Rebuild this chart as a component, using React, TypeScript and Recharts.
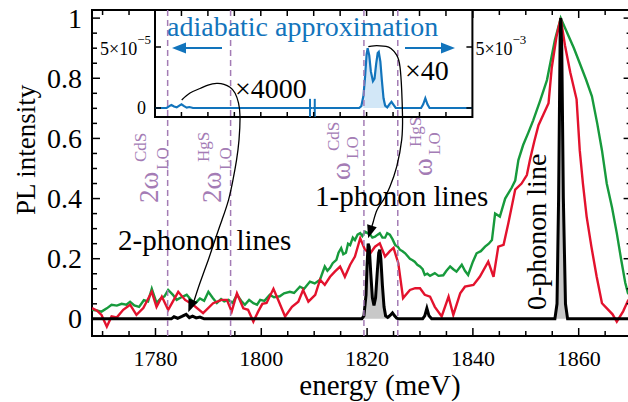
import React from 'react';
import {
  ComposedChart,
  Line,
  Area,
  XAxis,
  YAxis,
  ReferenceLine,
  ReferenceArea,
  Scatter,
  CartesianGrid,
} from 'recharts';

// ---------------- data ----------------
const greenE = [1768.0, 1768.9, 1769.8, 1770.8, 1771.7, 1772.7, 1773.6, 1774.5, 1775.2, 1776.0, 1776.9, 1777.8, 1778.6, 1779.3, 1780.2, 1781.0, 1781.7, 1782.4, 1783.3, 1784.0, 1784.9, 1785.9, 1786.8, 1787.6, 1788.4, 1789.2, 1790.0, 1790.8, 1791.6, 1792.4, 1793.0, 1793.8, 1794.6, 1795.4, 1796.2, 1796.9, 1797.7, 1798.5, 1799.2, 1799.8, 1800.6, 1801.6, 1802.4, 1803.5, 1804.3, 1805.4, 1806.2, 1807.3, 1808.1, 1809.2, 1810.1, 1811.1, 1811.6, 1812.0, 1812.5, 1813.0, 1813.5, 1814.2, 1814.6, 1815.1, 1815.5, 1816.0, 1816.4, 1816.8, 1817.3, 1817.7, 1818.2, 1818.7, 1819.1, 1819.6, 1820.1, 1820.6, 1821.0, 1821.5, 1822.0, 1822.4, 1822.9, 1823.4, 1823.8, 1824.3, 1824.8, 1825.3, 1825.8, 1826.2, 1826.7, 1827.2, 1827.6, 1828.1, 1828.6, 1829.0, 1829.5, 1830.0, 1830.5, 1830.9, 1831.4, 1831.9, 1832.8, 1833.5, 1834.4, 1835.0, 1835.7, 1836.3, 1836.9, 1837.9, 1838.5, 1839.1, 1840.0, 1840.7, 1841.5, 1842.3, 1843.0, 1843.6, 1844.2, 1845.1, 1846.1, 1847.3, 1848.0, 1848.6, 1849.5, 1850.5, 1851.4, 1852.7, 1854.0, 1855.5, 1856.6, 1858.0, 1859.1, 1860.2, 1861.4, 1862.5, 1863.5, 1864.4, 1865.3, 1866.3, 1867.2, 1868.0, 1868.8, 1869.3, 1870.0];
const greenI = [0.030, 0.028, 0.024, 0.035, 0.047, 0.044, 0.050, 0.047, 0.057, 0.045, 0.040, 0.062, 0.058, 0.100, 0.053, 0.068, 0.075, 0.096, 0.080, 0.063, 0.072, 0.080, 0.062, 0.053, 0.068, 0.060, 0.090, 0.070, 0.053, 0.066, 0.058, 0.063, 0.053, 0.080, 0.060, 0.047, 0.063, 0.052, 0.047, 0.063, 0.060, 0.080, 0.072, 0.075, 0.085, 0.090, 0.086, 0.107, 0.100, 0.124, 0.118, 0.130, 0.155, 0.174, 0.160, 0.170, 0.185, 0.196, 0.220, 0.235, 0.215, 0.220, 0.250, 0.245, 0.270, 0.262, 0.280, 0.285, 0.275, 0.290, 0.285, 0.280, 0.270, 0.273, 0.280, 0.285, 0.270, 0.270, 0.285, 0.280, 0.265, 0.246, 0.240, 0.230, 0.225, 0.218, 0.210, 0.200, 0.195, 0.190, 0.180, 0.174, 0.165, 0.146, 0.150, 0.143, 0.152, 0.143, 0.145, 0.160, 0.174, 0.165, 0.157, 0.180, 0.160, 0.146, 0.190, 0.218, 0.225, 0.240, 0.250, 0.262, 0.350, 0.340, 0.400, 0.435, 0.460, 0.528, 0.578, 0.620, 0.660, 0.725, 0.794, 0.927, 1.000, 0.944, 0.900, 0.850, 0.795, 0.740, 0.650, 0.560, 0.450, 0.370, 0.285, 0.200, 0.120, 0.086, 0.070];

const redE = [1768.0, 1768.9, 1769.8, 1770.8, 1771.7, 1772.7, 1773.9, 1775.2, 1776.4, 1777.7, 1779.3, 1780.2, 1781.2, 1782.4, 1784.3, 1785.6, 1787.1, 1789.0, 1790.9, 1792.5, 1793.5, 1794.4, 1795.4, 1796.6, 1797.5, 1798.5, 1799.4, 1800.2, 1801.0, 1802.3, 1803.2, 1804.5, 1805.8, 1807.0, 1807.9, 1808.9, 1810.2, 1811.1, 1812.0, 1813.0, 1813.9, 1814.9, 1815.8, 1816.8, 1817.7, 1818.7, 1819.6, 1820.6, 1821.5, 1822.4, 1823.4, 1824.3, 1825.0, 1825.9, 1826.8, 1828.1, 1829.1, 1830.0, 1830.9, 1831.9, 1832.8, 1834.1, 1835.4, 1836.3, 1837.6, 1838.5, 1840.1, 1841.3, 1842.9, 1843.9, 1844.8, 1845.8, 1846.7, 1848.0, 1849.2, 1850.2, 1850.8, 1851.6, 1852.4, 1854.3, 1854.9, 1855.8, 1856.6, 1857.4, 1858.4, 1859.6, 1860.2, 1860.8, 1861.5, 1862.4, 1863.4, 1864.4, 1865.6, 1866.4, 1867.2, 1868.4, 1869.3, 1870.0];
const redI = [0.036, 0.028, 0.013, -0.026, 0.008, 0.005, 0.030, 0.047, 0.013, 0.036, 0.090, 0.040, 0.074, 0.030, 0.090, 0.063, 0.047, 0.019, 0.052, 0.063, 0.063, 0.024, 0.085, 0.035, 0.030, -0.009, 0.024, 0.050, 0.053, 0.100, 0.063, 0.008, 0.040, 0.057, 0.096, 0.057, 0.080, 0.130, 0.113, 0.140, 0.157, 0.174, 0.140, 0.180, 0.207, 0.268, 0.230, 0.218, 0.240, 0.251, 0.207, 0.225, 0.236, 0.185, 0.069, 0.096, 0.102, 0.102, 0.080, 0.074, 0.040, 0.008, 0.074, 0.013, 0.085, 0.107, 0.113, 0.140, 0.190, 0.140, 0.240, 0.246, 0.318, 0.430, 0.450, 0.478, 0.530, 0.590, 0.644, 0.717, 0.834, 0.938, 1.000, 0.910, 0.820, 0.730, 0.560, 0.450, 0.340, 0.240, 0.140, 0.052, 0.030, 0.015, -0.009, 0.025, 0.060, 0.075];

const blackE = [1768.0, 1783.0, 1783.5, 1784.2, 1785.0, 1785.8, 1786.4, 1787.0, 1787.7, 1788.4, 1789.2, 1819.0, 1819.4, 1819.8, 1820.0, 1820.2, 1820.4, 1820.7, 1821.0, 1821.3, 1821.6, 1821.9, 1822.2, 1822.4, 1822.6, 1822.9, 1823.2, 1823.5, 1823.9, 1824.4, 1824.8, 1825.2, 1825.6, 1826.0, 1830.5, 1830.9, 1831.3, 1831.7, 1832.2, 1855.5, 1855.9, 1856.2, 1856.5, 1856.6, 1856.8, 1857.1, 1857.5, 1857.9, 1870.0];
const blackI = [0, 0, 0.007, 0.002, 0.008, 0.015, 0.004, 0.009, 0.003, 0.006, 0, 0, 0.01, 0.08, 0.18, 0.25, 0.24, 0.15, 0.07, 0.045, 0.07, 0.15, 0.22, 0.23, 0.2, 0.11, 0.04, 0.01, 0.005, 0.012, 0.02, 0.01, 0.002, 0, 0, 0.01, 0.035, 0.01, 0, 0, 0.05, 0.4, 0.95, 1.0, 0.9, 0.4, 0.05, 0, 0];

// inset (adiabatic approximation), left part ×4000 scale, right part ×40 scale
const blueLowE = [1780.0, 1782.2, 1782.7, 1783.1, 1783.6, 1784.1, 1784.6, 1785.0, 1785.5, 1786.0, 1786.5, 1787.2, 1809.75];
const blueLowI = [0, 0, 1.5e-6, 2.5e-6, 1.2e-6, 0.5e-6, 2.0e-6, 3.0e-6, 1.5e-6, 0.3e-6, 0.8e-6, 0, 0];
const blueHighE = [1809.75, 1818.6, 1819.0, 1819.4, 1819.7, 1820.0, 1820.2, 1820.5, 1820.8, 1821.2, 1821.5, 1821.8, 1822.1, 1822.3, 1822.6, 1822.9, 1823.2, 1823.5, 1823.9, 1824.3, 1824.7, 1825.1, 1825.5, 1830.3, 1830.7, 1831.1, 1831.5, 1831.9, 1840.0];
const blueHighI = [0, 0, 0.15e-3, 1.0e-3, 2.5e-3, 4.4e-3, 4.9e-3, 4.3e-3, 3.0e-3, 2.2e-3, 2.4e-3, 3.6e-3, 4.5e-3, 4.6e-3, 3.8e-3, 2.2e-3, 0.8e-3, 0.2e-3, 0.05e-3, 0.3e-3, 0.5e-3, 0.25e-3, 0, 0, 0.3e-3, 0.8e-3, 0.3e-3, 0, 0];

// shaded ranges (1-phonon lines and zero-phonon line)
const shadeRanges = [[1819.4, 1824.7], [1855.4, 1858.0]];
const blueShadeRange = [1819.4, 1824.7];

// phonon energies
const phononE = [1782.3, 1794.2, 1819.4, 1825.8];
const phononMain = ['2ω', '2ω', 'ω', 'ω'];
const phononSup = ['CdS', 'HgS', 'CdS', 'HgS'];

// inset break marks
const breakE = [1809.3, 1810.2];

// annotation curves (data coordinates)
const curve1E = [1784.96, 1786.53, 1788.42, 1789.93, 1791.57, 1792.95, 1794.09, 1795.03, 1795.69, 1795.98, 1795.79, 1795.32, 1794.65, 1793.8, 1792.57, 1791.25, 1789.98, 1788.42, 1787.3];
const curve1I = [0.728, 0.751, 0.766, 0.777, 0.783, 0.780, 0.770, 0.751, 0.718, 0.672, 0.595, 0.528, 0.462, 0.395, 0.329, 0.262, 0.196, 0.12, 0.06];
const curve2E = [1820.23, 1821.31, 1822.44, 1823.58, 1824.52, 1825.6, 1826.22, 1826.54, 1826.7, 1826.54, 1825.6, 1824.33, 1823.07, 1821.88, 1821.17, 1820.75];
const curve2I = [0.905, 0.908, 0.908, 0.906, 0.899, 0.877, 0.838, 0.761, 0.672, 0.595, 0.506, 0.440, 0.395, 0.362, 0.323, 0.30];
const arrowE = [1786.2, 1820.2];
const arrowI = [0.022, 0.268];
const arrowAngle = [112, 107];

// ticks
const xTicks = [1770, 1775, 1780, 1785, 1790, 1795, 1800, 1805, 1810, 1815, 1820, 1825, 1830, 1835, 1840, 1845, 1850, 1855, 1860, 1865];
const xTickLabels = [1780, 1800, 1820, 1840, 1860];
const yTicks = [0, 0.05, 0.1, 0.15, 0.2, 0.25, 0.3, 0.35, 0.4, 0.45, 0.5, 0.55, 0.6, 0.65, 0.7, 0.75, 0.8, 0.85, 0.9, 0.95, 1];
const yTickLabels = [0, 0.2, 0.4, 0.6, 0.8, 1];
const insetXTicks = [1785, 1790, 1795, 1800, 1805, 1810, 1815, 1820, 1825, 1830, 1835];
const insetLTicks = [0, 5e-5];
const insetRTicks = [0, 5e-3];

// ---------------- styles / layout ----------------
const SERIF = '"Liberation Serif", "Times New Roman", serif';
const RED = '#e3122d';
const GREEN = '#179a3c';
const BLUE = '#1274bc';
const PURPLE = '#a47cb5';
const GRAY = '#c8c8c8';
const LIGHTBLUE = '#d2e7f7';

const X_DOMAIN: [number, number] = [1768, 1870];
const Y_DOMAIN: [number, number] = [-0.057, 1.027];
const W = 640;
const H = 402;
const M = { top: 10, right: 8.4, bottom: 66, left: 92 };
const PLOT_W = W - M.left - M.right;
const PLOT_H = H - M.top - M.bottom;
const LEFT = M.left;
const RIGHT = M.left + PLOT_W;
const TOP = M.top;
const BOTTOM = M.top + PLOT_H;
const PX_PER_MEV = PLOT_W / (X_DOMAIN[1] - X_DOMAIN[0]);

const IN_DOMAIN: [number, number] = [1780, 1840];
const IN_L_DOMAIN: [number, number] = [-0.738e-5, 8.033e-5];
const IN_R_DOMAIN: [number, number] = [-0.738e-3, 8.033e-3];
const IN_PLOT_W = (IN_DOMAIN[1] - IN_DOMAIN[0]) * PX_PER_MEV;
const IN_PLOT_H = 107;
const IN_AX = 60;
const IN_XH = 20;
const IN_POS_LEFT = LEFT + (IN_DOMAIN[0] - X_DOMAIN[0]) * PX_PER_MEV - IN_AX;
const IN_POS_TOP = TOP;

const labelLayout = [
  { dx: -10, y: 203, size: 27, subAlong: 33, subShift: 10, supAlong: 41, supShift: -12 },
  { dx: -10, y: 203, size: 27, subAlong: 33, subShift: 10, supAlong: 41, supShift: -12 },
  { dx: -14, y: 180, size: 27, subAlong: 21, subShift: 8, supAlong: 29, supShift: -11 },
  { dx: 34, y: 176, size: 27, subAlong: 21, subShift: 8, supAlong: 29, supShift: -11 },
];

// ---------------- derived rows ----------------
const inRanges = (x: number, ranges: number[][]) => ranges.some(([a, b]) => x >= a && x <= b);
const greenRows = greenE.map((x, i) => ({ x, y: greenI[i] }));
const redRows = redE.map((x, i) => ({ x, y: redI[i] }));
const blackRows = blackE.map((x, i) => ({ x, y: blackI[i], fill: inRanges(x, shadeRanges) ? blackI[i] : null }));
const blueLowRows = blueLowE.map((x, i) => ({ x, y: blueLowI[i] }));
const blueHighRows = blueHighE.map((x, i) => ({
  x,
  y: blueHighI[i],
  fill: x >= blueShadeRange[0] && x <= blueShadeRange[1] ? blueHighI[i] : null,
}));
const curve1Rows = curve1E.map((x, i) => ({ x, y: curve1I[i] }));
const curve2Rows = curve2E.map((x, i) => ({ x, y: curve2I[i] }));
const arrowRows = arrowE.map((x, i) => ({ x, y: arrowI[i], angle: arrowAngle[i] }));

// ---------------- tick renderers ----------------
const MainXTick = (p: any) => {
  const { x, payload } = p;
  const v = payload.value;
  const major = xTickLabels.includes(v);
  const len = major ? 8 : 5;
  return (
    <g>
      <line x1={x} x2={x} y1={BOTTOM} y2={BOTTOM - len} stroke="#000" strokeWidth={1.5} />
      <line x1={x} x2={x} y1={TOP} y2={TOP + len} stroke="#000" strokeWidth={1.5} />
      {major ? (
        <text x={x} y={BOTTOM + 30} textAnchor="middle" fontFamily={SERIF} fontSize={22} fill="#000">
          {String(v)}
        </text>
      ) : null}
    </g>
  );
};

const MainYTick = (p: any) => {
  const { y, payload } = p;
  const v = payload.value;
  const major = yTickLabels.includes(v);
  const len = major ? 8 : 5;
  return (
    <g>
      <line x1={LEFT} x2={LEFT + len} y1={y} y2={y} stroke="#000" strokeWidth={1.5} />
      <line x1={RIGHT} x2={RIGHT - len} y1={y} y2={y} stroke="#000" strokeWidth={1.5} />
      {major ? (
        <text x={LEFT - 10} y={y} dy="0.34em" textAnchor="end" fontFamily={SERIF} fontSize={28} fill="#000">
          {String(v)}
        </text>
      ) : null}
    </g>
  );
};

const InsetXTick = (p: any) => {
  const { x } = p;
  return (
    <g>
      <line x1={x} x2={x} y1={IN_PLOT_H} y2={IN_PLOT_H - 5} stroke="#000" strokeWidth={1.5} />
      <line x1={x} x2={x} y1={0} y2={6} stroke="#000" strokeWidth={1.5} />
    </g>
  );
};

const InsetLTick = (p: any) => {
  const { y, payload } = p;
  const v = payload.value;
  return (
    <g>
      <line x1={IN_AX} x2={IN_AX + 6} y1={y} y2={y} stroke="#000" strokeWidth={1.5} />
      {v === 0 ? (
        <text x={IN_AX - 9} y={y} dy="0.35em" textAnchor="end" fontFamily={SERIF} fontSize={18} fill="#000">0</text>
      ) : (
        <text x={IN_AX - 4} y={y + 8} textAnchor="end" fontFamily={SERIF} fontSize={18} fill="#000">
          5×10<tspan dy={-11} fontSize={13}>−5</tspan>
        </text>
      )}
    </g>
  );
};

const InsetRTick = (p: any) => {
  const { y, payload } = p;
  const v = payload.value;
  const rx = IN_AX + IN_PLOT_W;
  return (
    <g>
      <line x1={rx} x2={rx - 6} y1={y} y2={y} stroke="#000" strokeWidth={1.5} />
      {v === 0 ? null : (
        <text x={rx + 3} y={y + 8} textAnchor="start" fontFamily={SERIF} fontSize={18} fill="#000">
          5×10<tspan dy={-11} fontSize={13}>−3</tspan>
        </text>
      )}
    </g>
  );
};

const PhononLabel = (props: any) => {
  const { viewBox, idx } = props;
  const L = labelLayout[idx];
  const ax = viewBox.x + L.dx;
  return (
    <g transform={`translate(${ax},${L.y}) rotate(-90)`} fontFamily={SERIF}>
      <text x={0} y={0} fontSize={L.size} fill={PURPLE}>{phononMain[idx]}</text>
      <text x={L.subAlong} y={L.subShift} fontSize={17} fill={PURPLE}>LO</text>
      <text x={L.supAlong} y={L.supShift} fontSize={17} fill={PURPLE}>{phononSup[idx]}</text>
    </g>
  );
};

const ArrowHead = (p: any) => {
  const { cx, cy, payload } = p;
  return (
    <polygon
      points="0,0 -13,-5 -13,5"
      transform={`translate(${cx},${cy}) rotate(${payload.angle})`}
      fill="#000"
    />
  );
};

const NoShape = () => <g />;

export default function App() {
  return (
    <div style={{ position: 'absolute', left: 0, top: 0, width: 628, height: 402, overflow: 'hidden', background: '#fff' }}>
      {/* main chart */}
      <div style={{ position: 'absolute', left: 0, top: 0 }}>
        <ComposedChart width={W} height={H} margin={{ top: M.top, right: M.right, bottom: M.bottom - 30, left: M.left - 60 }}>
          <XAxis
            type="number"
            dataKey="x"
            domain={X_DOMAIN}
            allowDataOverflow
            ticks={xTicks}
            interval={0}
            height={30}
            tick={<MainXTick />}
            tickSize={0}
            tickLine={false}
            axisLine={false}
          />
          <YAxis
            type="number"
            dataKey="y"
            domain={Y_DOMAIN}
            allowDataOverflow
            ticks={yTicks}
            interval={0}
            width={60}
            tick={<MainYTick />}
            tickSize={0}
            tickLine={false}
            axisLine={false}
          />
          <Line data={greenRows} dataKey="y" stroke={GREEN} strokeWidth={2.4} dot={false} isAnimationActive={false} />
          <Line data={redRows} dataKey="y" stroke={RED} strokeWidth={2.4} dot={false} isAnimationActive={false} />
          <Area data={blackRows} dataKey="fill" stroke="none" fill={GRAY} fillOpacity={1} baseValue={0} connectNulls={false} isAnimationActive={false} />
          <Line data={blackRows} dataKey="y" stroke="#000" strokeWidth={3} dot={false} isAnimationActive={false} />
          <ReferenceArea x1={X_DOMAIN[0]} x2={X_DOMAIN[1]} y1={Y_DOMAIN[0]} y2={Y_DOMAIN[1]} fill="none" stroke="#000" strokeWidth={2} ifOverflow="visible" />
        </ComposedChart>
      </div>

      {/* inset chart */}
      <div style={{ position: 'absolute', left: IN_POS_LEFT, top: IN_POS_TOP }}>
        <ComposedChart width={IN_AX * 2 + IN_PLOT_W} height={IN_PLOT_H + IN_XH} margin={{ top: 0, right: 0, bottom: 0, left: 0 }}>
          <CartesianGrid yAxisId="L" fill="#fff" stroke="none" horizontal={false} vertical={false} />
          <XAxis
            type="number"
            dataKey="x"
            domain={IN_DOMAIN}
            allowDataOverflow
            ticks={insetXTicks}
            interval={0}
            height={IN_XH}
            tick={<InsetXTick />}
            tickSize={0}
            tickLine={false}
            axisLine={false}
          />
          <YAxis yAxisId="L" orientation="left" type="number" dataKey="y" domain={IN_L_DOMAIN} allowDataOverflow ticks={insetLTicks} interval={0} width={IN_AX} tick={<InsetLTick />} tickSize={0} tickLine={false} axisLine={false} />
          <YAxis yAxisId="R" orientation="right" type="number" dataKey="y" domain={IN_R_DOMAIN} allowDataOverflow ticks={insetRTicks} interval={0} width={IN_AX} tick={<InsetRTick />} tickSize={0} tickLine={false} axisLine={false} />
          <Area yAxisId="R" data={blueHighRows} dataKey="fill" stroke="none" fill={LIGHTBLUE} fillOpacity={1} baseValue={0} connectNulls={false} isAnimationActive={false} />
          <Line yAxisId="L" data={blueLowRows} dataKey="y" stroke={BLUE} strokeWidth={2.2} dot={false} isAnimationActive={false} />
          <Line yAxisId="R" data={blueHighRows} dataKey="y" stroke={BLUE} strokeWidth={2.2} dot={false} isAnimationActive={false} />
          {breakE.map((e) => (
            <ReferenceLine
              key={e}
              yAxisId="L"
              segment={[{ x: e, y: IN_L_DOMAIN[0] }, { x: e, y: 0.75e-5 }]}
              stroke={BLUE}
              strokeWidth={2}
              ifOverflow="visible"
            />
          ))}
          <ReferenceArea yAxisId="L" x1={IN_DOMAIN[0]} x2={IN_DOMAIN[1]} y1={IN_L_DOMAIN[0]} y2={IN_L_DOMAIN[1]} fill="none" stroke="#000" strokeWidth={2} ifOverflow="visible" />
        </ComposedChart>
      </div>

      {/* overlay: phonon lines and connecting curves */}
      <div style={{ position: 'absolute', left: 0, top: 0 }}>
        <ComposedChart width={W} height={H} margin={M}>
          <XAxis type="number" dataKey="x" domain={X_DOMAIN} allowDataOverflow hide />
          <YAxis type="number" dataKey="y" domain={Y_DOMAIN} allowDataOverflow hide />
          {phononE.map((e, i) => (
            <ReferenceLine
              key={e}
              x={e}
              stroke={PURPLE}
              strokeWidth={1.5}
              strokeDasharray="6 4"
              label={<PhononLabel idx={i} />}
            />
          ))}
          <Scatter data={curve1Rows} fill="#000" line={{ stroke: '#000', strokeWidth: 1.3 }} lineJointType="natural" shape={<NoShape />} isAnimationActive={false} />
          <Scatter data={curve2Rows} fill="#000" line={{ stroke: '#000', strokeWidth: 1.3 }} lineJointType="natural" shape={<NoShape />} isAnimationActive={false} />
          <Scatter data={arrowRows} fill="#000" shape={<ArrowHead />} isAnimationActive={false} />
        </ComposedChart>
      </div>

      {/* text annotations */}
      <svg width={628} height={402} style={{ position: 'absolute', left: 0, top: 0 }} fontFamily={SERIF}>
        <text x={167} y={36} fontSize={28} fill={BLUE}>adiabatic approximation</text>
        <line x1={222} x2={182} y1={48} y2={48} stroke={BLUE} strokeWidth={2} />
        <polygon points="172,48 186,42.5 186,53.5" fill={BLUE} />
        <line x1={405} x2={445} y1={48} y2={48} stroke={BLUE} strokeWidth={2} />
        <polygon points="455,48 441,42.5 441,53.5" fill={BLUE} />
        <text x={235} y={98} fontSize={28} fill="#000">×4000</text>
        <text x={405} y={80} fontSize={28} fill="#000">×40</text>
        <text x={118} y={250} fontSize={29} fill="#000">2-phonon lines</text>
        <text x={315} y={206} fontSize={29} fill="#000">1-phonon lines</text>
        <text transform="translate(546,310) rotate(-90)" fontSize={28} fill="#000">0-phonon line</text>
        <text transform="translate(35,215) rotate(-90)" fontSize={27} fill="#000">PL intensity</text>
        <text x={380} y={395} textAnchor="middle" fontSize={29} fill="#000">energy (meV)</text>
      </svg>
    </div>
  );
}
